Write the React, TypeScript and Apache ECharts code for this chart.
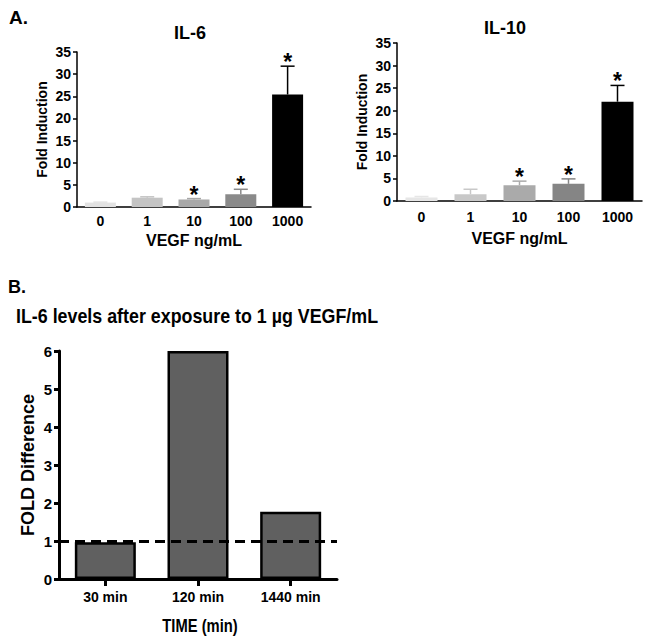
import React, { useEffect, useRef } from "react";
import * as echarts from "echarts";

const doseCategories = ["0", "1", "10", "100", "1000"];
const il6Values = [1.0, 2.1, 1.7, 2.9, 25.4];
const il6Upper = [1.1, 2.3, 1.9, 4.0, 31.8];
const il6Sig = [0, 0, 1, 1, 1];
const il10Values = [0.8, 1.5, 3.5, 3.8, 22.0];
const il10Upper = [1.0, 2.6, 4.4, 4.9, 25.6];
const il10Sig = [0, 0, 1, 1, 1];
const timeCategories = ["30 min", "120 min", "1440 min"];
const timeValues = [0.97, 6.0, 1.77];
const baselineValue = 1;

const il6Colors = ["#e2e2e2", "#c4c4c4", "#a8a8a8", "#8a8a8a", "#000000"];
const il10Colors = ["#e6e6e6", "#c8c8c8", "#aaaaaa", "#858585", "#000000"];

const FA = "'Liberation Sans', Arial, sans-serif";

function errSeries(idx: number, values: number[], upper: number[], sig: number[], colors: string[]) {
  return {
    type: "custom",
    xAxisIndex: idx,
    yAxisIndex: idx,
    z: 3,
    data: values.map((v, i) => [i, v, upper[i], sig[i]]),
    renderItem: (params: any, api: any) => {
      const i = api.value(0);
      const p0 = api.coord([i, api.value(1)]);
      const p1 = api.coord([i, api.value(2)]);
      const c = colors[params.dataIndex];
      const children: any[] = [
        { type: "line", shape: { x1: p0[0], y1: p0[1], x2: p1[0], y2: p1[1] }, style: { stroke: c, lineWidth: 1.5 } },
        { type: "line", shape: { x1: p1[0] - 7, y1: p1[1], x2: p1[0] + 7, y2: p1[1] }, style: { stroke: c, lineWidth: 1.5 } },
      ];
      if (api.value(3)) {
        children.push({
          type: "text",
          x: p1[0],
          y: p1[1] - 4,
          style: { text: "*", font: `bold 23px ${FA}`, fill: "#000", align: "center", verticalAlign: "middle" },
        });
      }
      return { type: "group", children };
    },
  };
}

function panelAAxes(idx: number, nameGapX: number, labelMarginX: number) {
  const x = {
    type: "category",
    gridIndex: idx,
    data: doseCategories,
    name: "VEGF ng/mL",
    nameLocation: "middle",
    nameGap: nameGapX,
    nameTextStyle: { fontFamily: FA, fontWeight: "bold", fontSize: 16, color: "#000" },
    axisLine: { lineStyle: { color: "#000", width: 1.5 } },
    axisTick: { show: false },
    axisLabel: { fontFamily: FA, fontWeight: "bold", fontSize: 14, color: "#000", margin: labelMarginX },
  };
  const y = {
    type: "value",
    gridIndex: idx,
    min: 0,
    max: 35,
    interval: 5,
    name: "Fold Induction",
    nameLocation: "middle",
    nameGap: 28,
    nameTextStyle: { fontFamily: FA, fontWeight: "bold", fontSize: 14, color: "#000" },
    axisLine: { show: true, lineStyle: { color: "#000", width: 1.5 } },
    axisTick: { show: true, length: 4, lineStyle: { color: "#000", width: 1.5 } },
    splitLine: { show: false },
    axisLabel: { fontFamily: FA, fontWeight: "bold", fontSize: 14, color: "#000", margin: 6 },
  };
  return { x, y };
}

export default function App() {
  const ref = useRef<HTMLDivElement>(null);
  useEffect(() => {
    document.body.style.margin = "0";
    const chart = echarts.init(ref.current!, null, { renderer: "svg" });
    const a0 = panelAAxes(0, 25, 7);
    const a1 = panelAAxes(1, 29, 9);
    chart.setOption({
      animation: false,
      backgroundColor: "#fff",
      title: [
        { text: "A.", left: 4, top: 3, textStyle: { fontFamily: FA, fontWeight: "bold", fontSize: 19, color: "#000" } },
        { text: "IL-6", left: 185, top: 19, textAlign: "center", textStyle: { fontFamily: FA, fontWeight: "bold", fontSize: 18, color: "#000" } },
        { text: "IL-10", left: 500, top: 14, textAlign: "center", textStyle: { fontFamily: FA, fontWeight: "bold", fontSize: 18, color: "#000" } },
        { text: "B.", left: 3, top: 273, textStyle: { fontFamily: FA, fontWeight: "bold", fontSize: 18, color: "#000" } },
      ],
      graphic: [
        {
          type: "text",
          x: 16,
          y: 315,
          scaleX: 0.85,
          style: {
            text: "IL-6 levels after exposure to 1 \u00b5g VEGF/mL",
            font: `bold 21px ${FA}`,
            fill: "#000",
            align: "left",
            verticalAlign: "middle",
          },
        },
        {
          type: "text",
          x: 200,
          y: 625,
          scaleX: 0.82,
          style: {
            text: "TIME (min)",
            font: `bold 18px ${FA}`,
            fill: "#000",
            align: "center",
            verticalAlign: "middle",
          },
        },
      ],
      grid: [
        { left: 77, top: 52, width: 234, height: 155 },
        { left: 397, top: 43, width: 245, height: 158 },
        { left: 59, top: 351, width: 278, height: 228 },
      ],
      xAxis: [
        a0.x,
        a1.x,
        {
          type: "category",
          gridIndex: 2,
          data: timeCategories,
          axisLine: { lineStyle: { color: "#000", width: 3 } },
          axisTick: { show: true, alignWithLabel: true, length: 7, lineStyle: { color: "#000", width: 3 } },
          axisLabel: { fontFamily: FA, fontWeight: "bold", fontSize: 14, color: "#000", margin: 11 },
        },
      ],
      yAxis: [
        a0.y,
        a1.y,
        {
          type: "value",
          gridIndex: 2,
          min: 0,
          max: 6,
          interval: 1,
          name: "FOLD Difference",
          nameLocation: "middle",
          nameGap: 22,
          nameTextStyle: { fontFamily: FA, fontWeight: "bold", fontSize: 18, color: "#000" },
          axisLine: { show: true, lineStyle: { color: "#000", width: 3 } },
          axisTick: { show: true, length: 5, lineStyle: { color: "#000", width: 3 } },
          splitLine: { show: false },
          axisLabel: { fontFamily: FA, fontWeight: "bold", fontSize: 15, color: "#000", margin: 7 },
        },
      ],
      series: [
        {
          type: "bar",
          xAxisIndex: 0,
          yAxisIndex: 0,
          barWidth: 31,
          data: il6Values.map((v, i) => ({ value: v, itemStyle: { color: il6Colors[i] } })),
        },
        errSeries(0, il6Values, il6Upper, il6Sig, il6Colors),
        {
          type: "bar",
          xAxisIndex: 1,
          yAxisIndex: 1,
          barWidth: 32,
          data: il10Values.map((v, i) => ({ value: v, itemStyle: { color: il10Colors[i] } })),
        },
        errSeries(1, il10Values, il10Upper, il10Sig, il10Colors),
        {
          type: "bar",
          xAxisIndex: 2,
          yAxisIndex: 2,
          barWidth: 61,
          itemStyle: { color: "#606060", borderColor: "#000", borderWidth: 2.5 },
          data: timeValues,
          markLine: {
            silent: true,
            symbol: "none",
            label: { show: false },
            lineStyle: { color: "#000", width: 3, type: [10, 6] },
            data: [{ yAxis: baselineValue }],
          },
        },
      ],
    });
    return () => chart.dispose();
  }, []);
  return <div ref={ref} style={{ width: 648, height: 639 }} />;
}
